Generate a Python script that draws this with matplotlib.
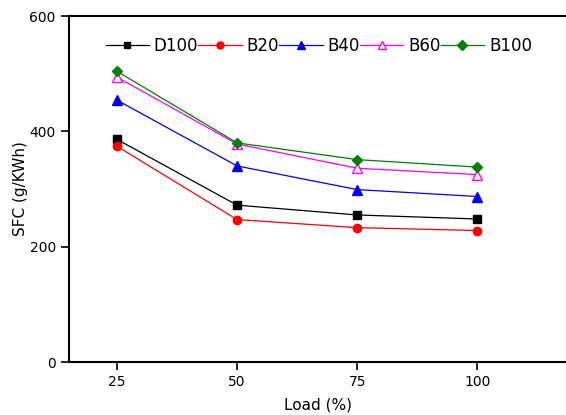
import matplotlib
matplotlib.use('Agg')
import matplotlib.pyplot as plt

loads = [25, 50, 75, 100]
d100 = [386, 272, 255, 248]
b20 = [374, 247, 233, 228]
b40 = [454, 340, 299, 287]
b60 = [494, 378, 336, 325]
b100 = [504, 380, 351, 338]

series = [
    ('D100', d100, 'black', 's', 'black', 5.5),
    ('B20', b20, 'red', 'o', 'red', 6),
    ('B40', b40, 'blue', '^', 'blue', 6.5),
    ('B60', b60, 'magenta', '^', 'white', 6.5),
    ('B100', b100, 'green', 'D', 'green', 5.5),
]

plt.rcParams['font.family'] = ['DejaVu Sans']
fig = plt.figure(figsize=(5.66, 4.15), dpi=100)
ax = fig.add_axes([0.122, 0.1277, 0.878, 0.8337])

for name, vals, col, mk, fc, ms in series:
    ax.plot(loads, vals, '-', color=col, lw=0.9, marker=mk, ms=ms,
            mfc=fc, mec=col, mew=1.0, label=name)

ax.set_xlim(15, 118.5)
ax.set_ylim(0, 600)
ax.set_xticks(loads)
ax.set_yticks([0, 200, 400, 600])
ax.tick_params(direction='out', length=6, width=1.2, labelsize=10)
for s in ['left', 'bottom', 'top']:
    ax.spines[s].set_linewidth(1.5)
ax.spines['right'].set_visible(False)

ax.set_xlabel('Load (%)', fontsize=11, labelpad=6)
ax.set_ylabel('SFC (g/KWh)', fontsize=11, labelpad=1)

ax.legend(loc='upper left', bbox_to_anchor=(0.06, 0.96), ncol=5, frameon=False,
          fontsize=12, handlelength=2.6, handletextpad=0.3, columnspacing=0.0,
          borderaxespad=0, markerscale=0.85)

fig.savefig('out.png', dpi=100)
